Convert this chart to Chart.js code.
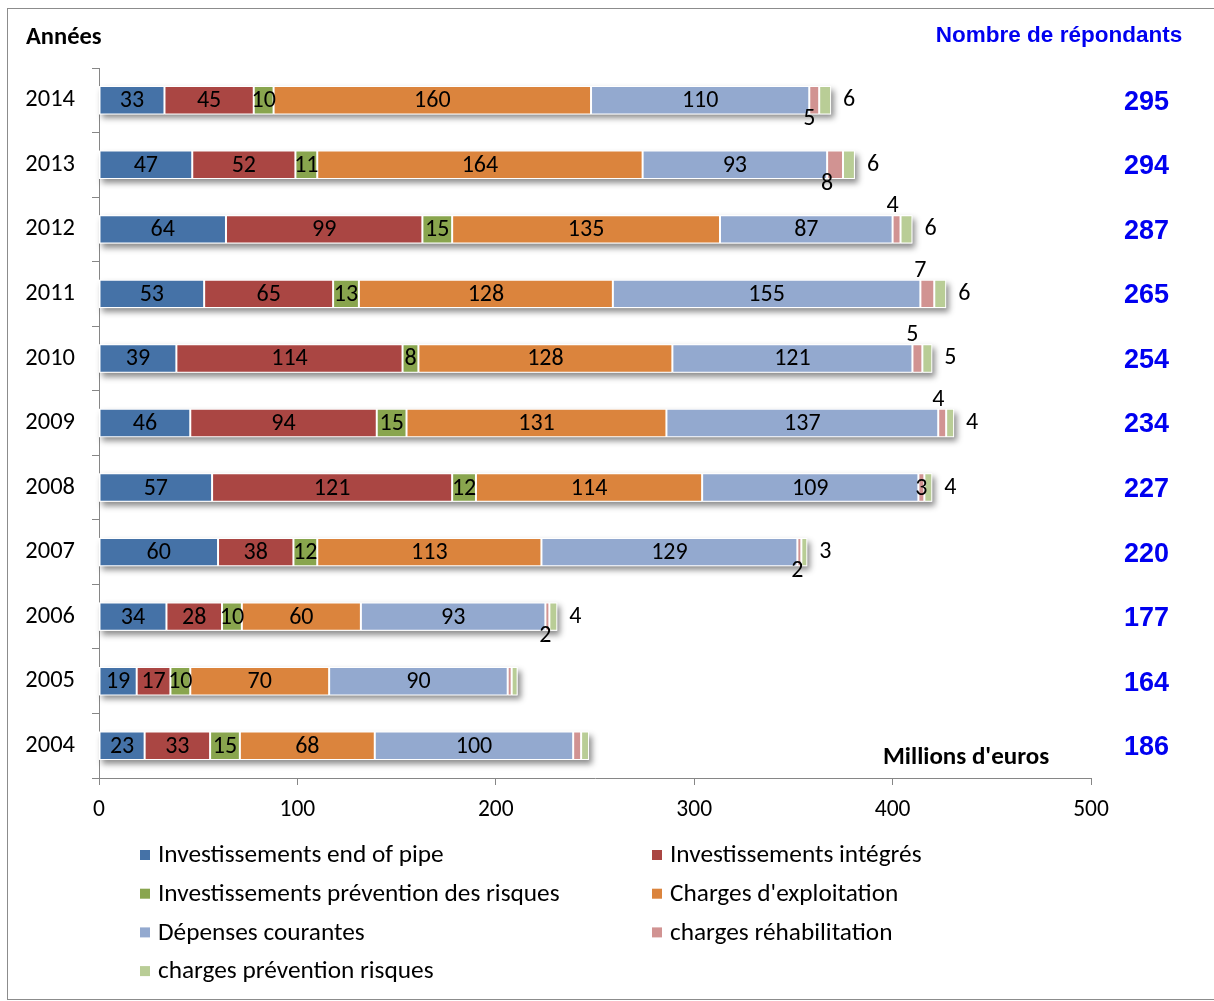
<!DOCTYPE html>
<html lang="fr">
<head>
<meta charset="utf-8">
<title>Dépenses environnementales par année</title>
<script src="https://cdn.jsdelivr.net/npm/chart.js@4.4.1/dist/chart.umd.min.js"></script>
<style>
  html, body { margin: 0; padding: 0; background: #fff; }
  #wrap { position: relative; width: 1214px; height: 1001px; }
</style>
</head>
<body>
<div id="wrap"><canvas id="chart" width="1214" height="1001"></canvas></div>
<script>
/* ── data ── */
const YEARS          = ['2014','2013','2012','2011','2010','2009','2008','2007','2006','2005','2004'];
const END_OF_PIPE    = [33, 47, 64, 53, 39, 46, 57, 60, 34, 19, 23];
const INTEGRES       = [45, 52, 99, 65, 114, 94, 121, 38, 28, 17, 33];
const PREV_RISQUES   = [10, 11, 15, 13, 8, 15, 12, 12, 10, 10, 15];
const EXPLOITATION   = [160, 164, 135, 128, 128, 131, 114, 113, 60, 70, 68];
const COURANTES      = [110, 93, 87, 155, 121, 137, 109, 129, 93, 90, 100];
const REHABILITATION = [5, 8, 4, 7, 5, 4, 3, 2, 2, 2, 4];
const CHARGES_PREV   = [6, 6, 6, 6, 5, 4, 4, 3, 4, 3, 4];
const REPONDANTS     = [295, 294, 287, 265, 254, 234, 227, 220, 177, 164, 186];
const X_TICKS        = [0, 100, 200, 300, 400, 500];

const SERIES_LABELS = [
  'Investissements end of pipe', 'Investissements intégrés',
  'Investissements prévention des risques', "Charges d'exploitation",
  'Dépenses courantes', 'charges réhabilitation', 'charges prévention risques'
];
const SERIES_COLORS = ['#4572A7','#AA4643','#89A54E','#DB843D','#93A9CF','#D19392','#B9CD96'];

// where the small-segment labels sit (null = no label)
const REHAB_LABEL_POS = ['below','below','above','above','above','above','inside','below','below',null,null];
const PREV_LABEL_POS  = ['right','right','right','right','right','right','right','right','right',null,null];

const FONT = 'Carlito, Lato, sans-serif';
const AXIS_GREY = '#868686';

/* ── frame, titles, respondents and legend ── */
const decorPlugin = {
  id: 'decor',
  beforeDraw(chart) {
    const c = chart.ctx;
    c.save();
    c.fillStyle = '#fff';
    c.fillRect(0, 0, chart.width, chart.height);
    c.strokeStyle = '#8c8c8c';
    c.lineWidth = 1;
    c.strokeRect(7.5, 8.5, 1220, 991);
    c.restore();
  },
  afterDraw(chart) {
    const c = chart.ctx;
    const y = chart.scales.y;
    c.save();
    c.textBaseline = 'middle';

    c.fillStyle = '#000';
    c.font = `bold 24.5px ${FONT}`;
    c.textAlign = 'left';
    c.fillText('Années', 26, 38);
    c.font = `bold 25px ${FONT}`;
    c.fillText("Millions d'euros", 883, 758);

    c.fillStyle = '#0000F0';
    c.font = 'bold 22.5px "Liberation Sans", Arial, sans-serif';
    c.textAlign = 'center';
    c.fillText('Nombre de répondants', 1059, 36);

    c.font = 'bold 27px "Liberation Sans", Arial, sans-serif';
    c.textAlign = 'right';
    REPONDANTS.forEach((n, i) => c.fillText(String(n), 1169, y.getPixelForValue(i) + 2));

    // two-column legend, filled row by row
    c.font = `25.3px ${FONT}`;
    c.textAlign = 'left';
    chart.data.datasets.forEach((ds, i) => {
      const lx = i % 2 === 0 ? 140 : 652;
      const ly = 855 + Math.floor(i / 2) * 38.7;
      c.fillStyle = ds.backgroundColor;
      c.fillRect(lx, ly - 5, 10, 10);
      c.fillStyle = '#000';
      c.fillText(ds.label, lx + 18, ly + 1);
    });
    c.restore();
  }
};

/* ── soft shadow under each stacked bar ── */
const shadowPlugin = {
  id: 'barShadow',
  beforeDatasetsDraw(chart) {
    const c = chart.ctx;
    const x0 = chart.scales.x.getPixelForValue(0);
    const metas = chart.data.datasets.map((_, i) => chart.getDatasetMeta(i));
    c.save();
    c.shadowColor = 'rgba(0,0,0,0.45)';
    c.shadowBlur = 6;
    c.shadowOffsetX = 3;
    c.shadowOffsetY = 4;
    c.fillStyle = '#fff';
    YEARS.forEach((_, j) => {
      const bars = metas.map(m => m.data[j]);
      const right = Math.max(...bars.map(b => b.x));
      const b = bars[0];
      c.fillRect(x0, b.y - b.height / 2, right - x0, b.height);
    });
    c.restore();
  }
};

/* ── value labels on segments ── */
const labelPlugin = {
  id: 'segLabels',
  afterDatasetsDraw(chart) {
    const c = chart.ctx;
    c.save();
    c.fillStyle = '#000';
    c.font = `24px ${FONT}`;
    c.textBaseline = 'middle';
    chart.data.datasets.forEach((ds, i) => {
      const meta = chart.getDatasetMeta(i);
      meta.data.forEach((bar, j) => {
        const { x, y, base, height } = bar.getProps(['x','y','base','height'], true);
        const txt = String(ds.data[j]);
        if (i < 5) {
          c.textAlign = 'center';
          c.fillText(txt, (x + base) / 2, y + 1);
        } else if (i === 5) {
          const pos = REHAB_LABEL_POS[j];
          if (!pos) return;
          c.textAlign = 'center';
          if (pos === 'below') c.fillText(txt, base, y + height / 2 + 5);
          else if (pos === 'above') c.fillText(txt, base, y - height / 2 - 9);
          else c.fillText(txt, (x + base) / 2, y + 1);
        } else {
          if (!PREV_LABEL_POS[j]) return;
          c.textAlign = 'left';
          c.fillText(txt, x + 12, y);
        }
      });
    });
    c.restore();
  }
};

const seriesData = [END_OF_PIPE, INTEGRES, PREV_RISQUES, EXPLOITATION, COURANTES, REHABILITATION, CHARGES_PREV];

new Chart(document.getElementById('chart'), {
  type: 'bar',
  data: {
    labels: YEARS,
    datasets: seriesData.map((d, i) => ({
      label: SERIES_LABELS[i],
      data: d,
      backgroundColor: SERIES_COLORS[i],
      borderColor: '#fff',
      borderWidth: 1,
      borderSkipped: false,
      categoryPercentage: 1,
      barPercentage: 0.44
    }))
  },
  options: {
    responsive: false,
    animation: false,
    indexAxis: 'y',
    layout: { padding: { left: 8, top: 68, right: 123, bottom: 173 } },
    plugins: { legend: { display: false }, tooltip: { enabled: false } },
    scales: {
      x: {
        stacked: true, min: 0, max: 500,
        afterBuildTicks: s => { s.ticks = X_TICKS.map(v => ({ value: v })); },
        afterFit: s => { s.height = 50; },
        grid: { drawOnChartArea: false, tickLength: 7, color: AXIS_GREY },
        border: { color: AXIS_GREY },
        ticks: { color: '#000', font: { family: FONT, size: 23.5 }, padding: 11, maxRotation: 0 }
      },
      y: {
        stacked: true,
        afterFit: s => { s.width = 91; },
        grid: { drawOnChartArea: false, tickLength: 7, color: AXIS_GREY, offset: true },
        border: { color: AXIS_GREY },
        ticks: { color: '#000', font: { family: FONT, size: 24.5 }, padding: 17 }
      }
    }
  },
  plugins: [decorPlugin, shadowPlugin, labelPlugin]
});
</script>
</body>
</html>
